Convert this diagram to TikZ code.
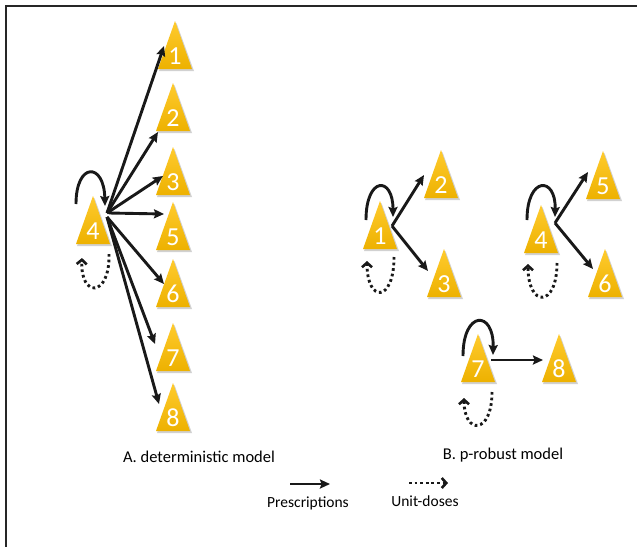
\documentclass[tikz,border=0pt]{standalone}
\usepackage{fontspec}
\setmainfont{Carlito}
\usetikzlibrary{arrows.meta}
\definecolor{triTop}{HTML}{FFCB2E}
\definecolor{triBot}{HTML}{EDB100}
\tikzset{
  x=1pt, y=-1pt,
  prescr/.style={line width=2.9pt, black!90, -{Stealth[length=10pt,width=9pt,inset=1.5pt]}},
  unitdose/.style={line width=2.9pt, black!90, dash pattern=on 2.7pt off 2.9pt,
     -{Straight Barb[length=4.5pt,width=10pt,line width=2.6pt]}},
  numlabel/.style={text=white, font=\fontsize{26}{26}\selectfont, inner sep=0pt},
  caption/.style={font=\fontsize{16.5}{19}\selectfont, inner sep=0pt},
  legendtext/.style={font=\fontsize{15.5}{18}\selectfont, inner sep=0pt},
  trishade/.style={top color=triTop, bottom color=triBot, draw=none},
  trishadow/.style={fill=black, opacity=0.18, draw=none},
  frameline/.style={line width=1.8pt, black!85},
}
% \tri{name}{cx}{base y}{label}
\newcommand{\tri}[4]{%
  \fill[trishadow] (#2-16,#3+2) -- (#2+1.5,#3-46) -- (#2+19,#3+2) -- cycle;
  \path[trishade] (#2-17,#3) -- (#2,#3-48) -- (#2+17,#3) -- cycle;
  \node[numlabel] (#1) at (#2,#3-13) {#4};
}
\begin{document}
\begin{tikzpicture}
\useasboundingbox (0,0) rectangle (637,547);
\fill[white] (0,0) rectangle (637,547);
% frame
\draw[frameline] (637,6) -- (6,6) -- (6,547);

% ---------- A. deterministic model ----------
\tri{a1}{175}{69}{1}
\tri{a2}{173}{131}{2}
\tri{a3}{173}{195}{3}
\tri{a4}{93}{244}{4}
\tri{a5}{173}{250}{5}
\tri{a6}{173}{307}{6}
\tri{a7}{173}{371}{7}
\tri{a8}{173}{431}{8}

\coordinate (aS) at (107,213);
\coordinate (aS5) at (109,213);
\coordinate (aS2) at (107,217);
\coordinate (a1t) at (164,46);
\coordinate (a2t) at (158,132);
\coordinate (a3t) at (163,176);
\coordinate (a5t) at (164,214);
\coordinate (a6t) at (164,284);
\coordinate (a7t) at (155,344);
\coordinate (a8t) at (159,404);
\draw[prescr] (aS) -- (a1t);
\draw[prescr] (aS) -- (a2t);
\draw[prescr] (aS) -- (a3t);
\draw[prescr] (aS5) -- (a5t);
\draw[prescr] (aS2) -- (a6t);
\draw[prescr] (aS2) -- (a7t);
\draw[prescr] (aS2) -- (a8t);

\coordinate (aL1) at (76,204);
\coordinate (aL2) at (105,206);
\draw[prescr] (aL1) .. controls (76,162) and (104,162) .. (aL2);
\coordinate (aD1) at (109,254);
\coordinate (aD2) at (82,258);
\draw[unitdose] (aD1) .. controls (110,298) and (80,298) .. (aD2);

% ---------- B. p-robust model ----------
\tri{b1}{380}{249}{1}
\tri{b2}{441}{198}{2}
\tri{b3}{444}{297}{3}
\tri{b4}{541}{253}{4}
\tri{b5}{603}{199}{5}
\tri{b6}{605}{297}{6}
\tri{b7}{478}{382}{7}
\tri{b8}{559}{382}{8}

% group 1
\coordinate (b1s) at (392,226);
\coordinate (b2t) at (424,175);
\coordinate (b3t) at (428,271);
\draw[prescr] (b1s) -- (b2t);
\draw[prescr] (b1s) -- (b3t);
\coordinate (bL1a) at (366,220);
\coordinate (bL1b) at (393,217);
\draw[prescr] (bL1a) .. controls (366,176) and (393,176) .. (bL1b);
\coordinate (bD1a) at (394,257);
\coordinate (bD1b) at (367,261);
\draw[unitdose] (bD1a) .. controls (394,303) and (367,303) .. (bD1b);

% group 4
\coordinate (b4s) at (555,223);
\coordinate (b5t) at (588,172);
\coordinate (b6t) at (593,269);
\draw[prescr] (b4s) -- (b5t);
\draw[prescr] (b4s) -- (b6t);
\coordinate (bL4a) at (527,220);
\coordinate (bL4b) at (555,217);
\draw[prescr] (bL4a) .. controls (527,176) and (556,176) .. (bL4b);
\coordinate (bD4a) at (557,263);
\coordinate (bD4b) at (528,264);
\draw[unitdose] (bD4a) .. controls (557,308) and (528,308) .. (bD4b);

% group 7
\coordinate (b7s) at (491,360);
\coordinate (b8t) at (543,360);
\draw[prescr] (b7s) -- (b8t);
\coordinate (bL7a) at (463,356);
\coordinate (bL7b) at (493,355);
\draw[prescr] (bL7a) .. controls (463,310) and (494,310) .. (bL7b);
\coordinate (bD7a) at (492,392);
\coordinate (bD7b) at (464,398);
\draw[unitdose] (bD7a) .. controls (492,435) and (464,435) .. (bD7b);

% ---------- captions and legend ----------
\node[caption] (capA) at (199,457) {A. deterministic model};
\node[caption] (capB) at (503,455) {B. p-robust model};
\coordinate (lg1a) at (290,484);
\coordinate (lg1b) at (330,484);
\draw[prescr] (lg1a) -- (lg1b);
\coordinate (lg2a) at (409,483);
\coordinate (lg2b) at (448,483);
\draw[unitdose] (lg2a) -- (lg2b);
\node[legendtext] (legP) at (308,503) {Prescriptions};
\node[legendtext] (legU) at (425,501) {Unit-doses};
\end{tikzpicture}
\end{document}
